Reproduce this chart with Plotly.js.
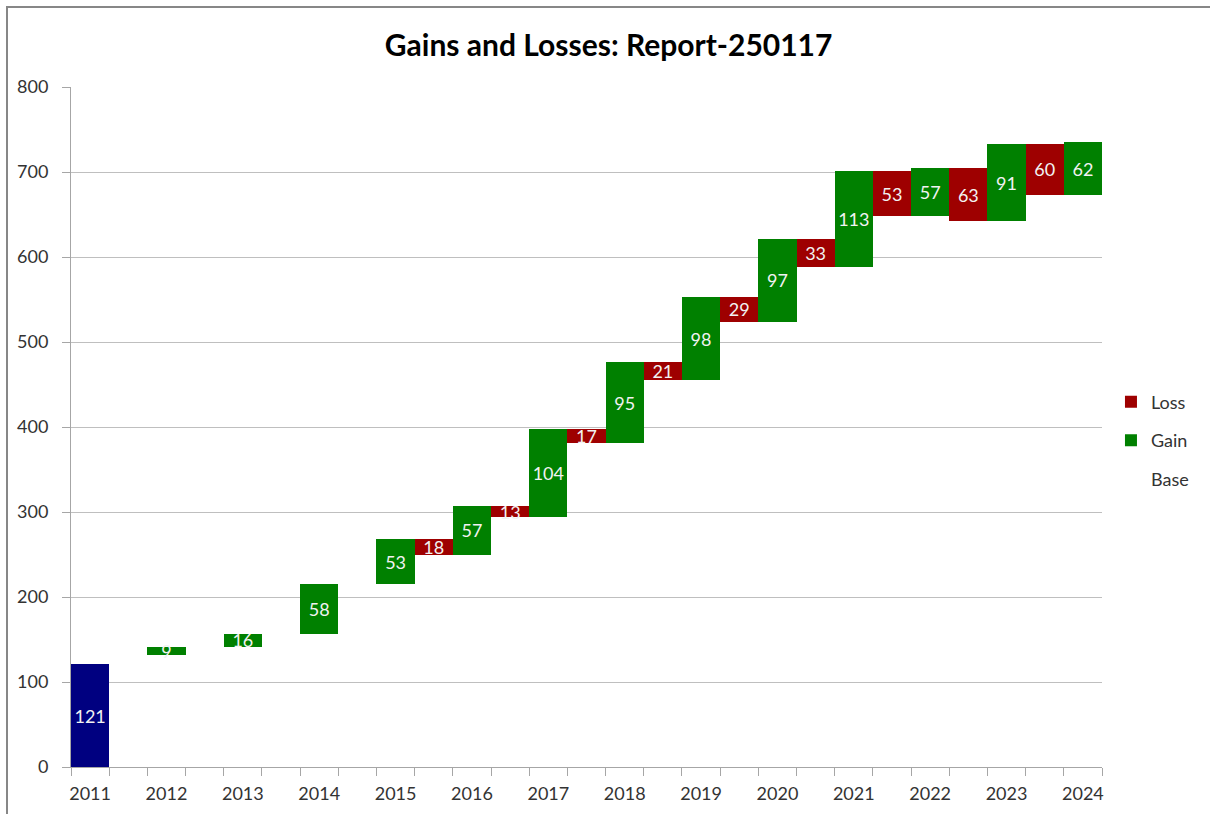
<!DOCTYPE html>
<html>
<head>
<meta charset="utf-8">
<script src="https://cdn.plot.ly/plotly-3.0.1.min.js"></script>
<style>html,body{margin:0;padding:0;background:#fff;}#chart{width:1210px;height:814px;}</style>
</head>
<body>
<div id="chart"></div>
<script>
// ---- data ----
const years = ["2011","2012","2013","2014","2015","2016","2017","2018","2019","2020","2021","2022","2023","2024"];
const openingValue = 121;                       // 2011 starting bar
const gains     = [9, 16, 58, 53, 57, 104, 95, 98, 97, 113, 57, 91, 62];       // 2012..2024
const gainBases = [132, 141, 157, 215, 250, 294, 381, 455, 524, 588, 648, 642, 673]; // 2012..2024
const losses    = [0, 0, 0, 0, 18, 13, 17, 21, 29, 33, 53, 63, 60];          // before 2012..2024

// ---- build slot arrays (loss slot between each pair of years) ----
const nSlots = years.length * 2 - 1;
const xs = [], baseY = [], openY = [], gainY = [], lossY = [];
for (let i = 0; i < nSlots; i++) { xs.push(i); baseY.push(null); openY.push(null); gainY.push(null); lossY.push(null); }
openY[0] = openingValue;
for (let k = 1; k < years.length; k++) {
  const g = 2 * k, l = 2 * k - 1;
  if (losses[k - 1] > 0) { baseY[l] = gainBases[k - 1]; lossY[l] = losses[k - 1]; }
  baseY[g] = gainBases[k - 1]; gainY[g] = gains[k - 1];
}
const tickPos = years.map((y, k) => 2 * k);
const boundaries = [];
for (let i = 0; i <= nSlots; i++) boundaries.push(i - 0.5);

const FONT = "Lato, 'Open Sans', sans-serif";
const labelFont = {family: FONT, size: 18, color: '#f2f2f2'};
const common = {type: 'bar', x: xs, width: 1, textposition: 'inside', insidetextanchor: 'middle',
  constraintext: 'none', textangle: 0, cliponaxis: false, textfont: labelFont, hoverinfo: 'skip'};

const traces = [
  Object.assign({}, common, {name: 'Base', legendgroup: 'b', legendrank: 3, y: baseY, marker: {color: 'rgba(0,0,0,0)'}, text: baseY.map(() => '')}),
  Object.assign({}, common, {name: 'Start', legendgroup: 's', legendrank: 4, y: openY, showlegend: false, marker: {color: '#000080'},
    text: openY.map(v => v == null ? '' : String(v))}),
  Object.assign({}, common, {name: 'Gain', legendgroup: 'g', legendrank: 2, y: gainY, marker: {color: '#008000'},
    text: gainY.map(v => v == null ? '' : String(v))}),
  Object.assign({}, common, {name: 'Loss', legendgroup: 'l', legendrank: 1, y: lossY, marker: {color: '#9e0000'},
    text: lossY.map(v => v == null ? '' : String(v))})
];

const axisGray = '#a6a6a6';
const layout = {
  width: 1210, height: 814,
  margin: {l: 71, r: 108, t: 87, b: 47},
  paper_bgcolor: '#ffffff', plot_bgcolor: '#ffffff',
  barmode: 'stack', bargap: 0,
  font: {family: FONT, size: 17, color: '#333333'},
  title: {text: '<b>Gains and Losses: Report-250117</b>', font: {family: FONT, size: 30, color: '#000000'},
    x: 0.503, xref: 'container', y: 1 - 45 / 814, yref: 'container', yanchor: 'middle'},
  xaxis: {range: [-0.5, nSlots - 0.5], tickmode: 'array', tickvals: tickPos, ticktext: years,
    ticks: '', showgrid: false, zeroline: false, showline: true, linecolor: axisGray, linewidth: 1,
    tickfont: {family: FONT, size: 18, color: '#333333'}, ticklabelstandoff: 10,
    minor: {tickmode: 'array', tickvals: boundaries, ticks: 'outside', ticklen: 8, tickcolor: axisGray, tickwidth: 1, showgrid: false},
    fixedrange: true},
  yaxis: {range: [0, 800], dtick: 100, tick0: 0, ticks: 'outside', ticklen: 8, tickcolor: axisGray,
    showgrid: true, gridcolor: '#bfbfbf', gridwidth: 1, zeroline: false, showline: true, linecolor: axisGray,
    tickfont: {family: FONT, size: 18, color: '#333333'}, ticklabelstandoff: 10, fixedrange: true},
  legend: {x: 1.0087, xanchor: 'left', y: 0.48, yanchor: 'middle', traceorder: 'grouped', tracegroupgap: 12,
    font: {family: FONT, size: 18, color: '#333333'}, bgcolor: 'rgba(0,0,0,0)'},
  shapes: [{type: 'rect', xref: 'paper', yref: 'paper', x0: (7 - 71) / 1031, x1: 1.2,
    y0: -0.2, y1: (767.3 - 7) / 680.3, line: {color: '#878787', width: 2}, fillcolor: 'rgba(0,0,0,0)', layer: 'below'}],
  showlegend: true
};

Plotly.newPlot('chart', traces, layout, {displayModeBar: false, staticPlot: true});
</script>
</body>
</html>
